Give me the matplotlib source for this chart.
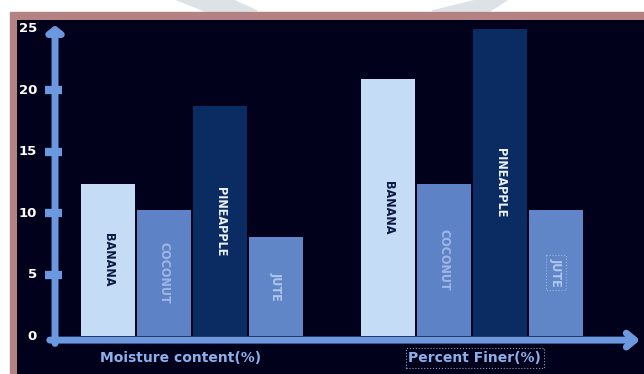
import matplotlib.pyplot as plt
from matplotlib.patches import Rectangle, Polygon

# Data
groups = ["Moisture content(%)", "Percent Finer(%)"]
fibres = ["BANANA", "COCONUT", "PINEAPPLE", "JUTE"]
moisture = [12.4, 10.3, 18.7, 8.1]
finer = [20.9, 12.4, 25.0, 10.3]
yticks = [0, 5, 10, 15, 20, 25]

bar_colors = ["#c4dcf6", "#5d83c6", "#0b2b63", "#6086c8"]
text_colors = ["#0a1a40", "#9db8e6", "#eef3fb", "#b0c8ee"]
axis_color = "#6b98de"
bg = "#02011c"

fig = plt.figure(figsize=(6.44, 3.74), dpi=100, facecolor="white")

# faint watermark shapes and pink frame
fig.patches.append(Polygon([(177/644, 1), (233/644, 1), (257/644, 1 - 11/374), (205/644, 1 - 11/374)],
                           closed=True, transform=fig.transFigure, color="#dce2e5", zorder=0))
fig.patches.append(Polygon([(477/644, 1), (507/644, 1), (490/644, 1 - 11/374), (432/644, 1 - 11/374)],
                           closed=True, transform=fig.transFigure, color="#dce2e5", zorder=0))
fig.patches.append(Rectangle((10/644, 0), 634/644, 362/374, transform=fig.transFigure,
                             color="#b58284", zorder=1))

ax = fig.add_axes([17/644, 0, 627/644, 354/374])
ax.set_zorder(5)
ax.set_facecolor(bg)
ax.set_xlim(-1.625, 9.571)
ax.set_ylim(-3.09, 25.73)
for s in ax.spines.values():
    s.set_visible(False)
ax.set_xticks([])
ax.set_yticks([])

for g, vals in enumerate([moisture, finer]):
    for i, v in enumerate(vals):
        x = g * 5 + i
        ax.bar(x, v, width=0.97, color=bar_colors[i], zorder=2)
        bbox = None
        if g == 1 and i == 3:
            bbox = dict(boxstyle="square,pad=0.25", fc="none", ec="#9fb8e0", ls=":", lw=0.8)
        ax.text(x, v / 2, fibres[i], rotation=-90, ha="center", va="center",
                color=text_colors[i], fontsize=9, fontweight="bold",
                fontstretch="condensed", family="DejaVu Sans", zorder=3, bbox=bbox)

# axes drawn as thick arrows
ax.annotate("", xy=(9.5, -0.33), xytext=(-1.04, -0.33),
            arrowprops=dict(arrowstyle="->,head_length=0.6,head_width=0.5", lw=5,
                            color=axis_color, shrinkA=0, shrinkB=0), zorder=4)
ax.annotate("", xy=(-0.946, 25.3), xytext=(-0.946, -0.6),
            arrowprops=dict(arrowstyle="-|>,head_length=0.35,head_width=0.45", lw=5,
                            color=axis_color, shrinkA=0, shrinkB=0), zorder=4)

for t in yticks:
    if 0 < t < 25:
        ax.plot([-1.125, -0.82], [t, t], color=axis_color, lw=6,
                solid_capstyle="butt", zorder=5)
    ax.text(-1.27, t, str(t), ha="right", va="center", color="white",
            fontsize=9.5, fontweight="bold", zorder=5)

ax.text(1.30, -1.79, groups[0], ha="center", va="center", color="#8cb0ea",
        fontsize=10, fontweight="bold")
ax.text(6.55, -1.79, groups[1], ha="center", va="center", color="#8cb0ea",
        fontsize=10, fontweight="bold",
        bbox=dict(boxstyle="square,pad=0.2", fc="none", ec="#8a9cc0", ls=":", lw=0.8))

fig.savefig("out.png", dpi=100, facecolor="white")
